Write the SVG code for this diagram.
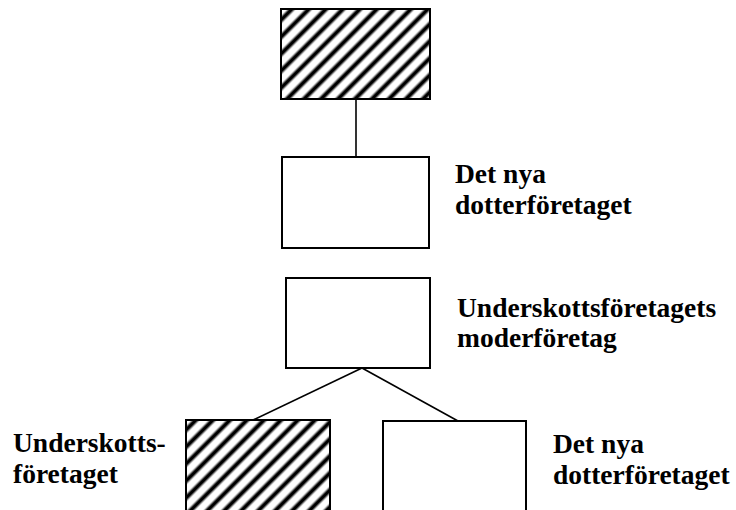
<svg xmlns="http://www.w3.org/2000/svg" width="736" height="510" viewBox="0 0 736 510">
<style>
.box{fill:#fff;stroke:#000;stroke-width:2}
.hatch1{fill:url(#h1);stroke:#000;stroke-width:2}
.hatch2{fill:url(#h2);stroke:#000;stroke-width:2}
.lbl{font-family:"Liberation Serif","Times New Roman",serif;font-weight:bold;font-size:27.5px;fill:#000}
.conn{stroke:#000;stroke-width:1.6;fill:none}
</style>
<defs>
<linearGradient id="sg" x1="0" y1="0" x2="0" y2="1">
<stop offset="0" stop-color="#fff"/>
<stop offset="0.22" stop-color="#fff"/>
<stop offset="0.42" stop-color="#000"/>
<stop offset="0.58" stop-color="#000"/>
<stop offset="0.78" stop-color="#fff"/>
<stop offset="1" stop-color="#fff"/>
</linearGradient>
<pattern id="h1" patternUnits="userSpaceOnUse" x="0" y="2.49" width="12.02" height="12.02" patternTransform="rotate(-45)">
<rect x="0" y="0" width="12.02" height="12.02" fill="url(#sg)"/>
</pattern>
<pattern id="h2" patternUnits="userSpaceOnUse" x="0" y="-3.18" width="12.02" height="12.02" patternTransform="rotate(-45)">
<rect x="0" y="0" width="12.02" height="12.02" fill="url(#sg)"/>
</pattern>
</defs>
<g id="connectors">
<line class="conn" x1="356" y1="99" x2="356" y2="157"/>
<line class="conn" x1="362" y1="368" x2="253" y2="420"/>
<line class="conn" x1="362" y1="368" x2="458" y2="421"/>
</g>
<g id="node-top">
<rect class="hatch1" x="281" y="9" width="149" height="90"/>
</g>
<g id="node-dotter1">
<rect class="box" x="282" y="157" width="147" height="91"/>
<text class="lbl" x="455" y="183">Det nya</text>
<text class="lbl" x="455" y="214">dotterföretaget</text>
</g>
<g id="node-moder">
<rect class="box" x="286" y="278" width="144" height="90"/>
<text class="lbl" x="457" y="317">Underskottsföretagets</text>
<text class="lbl" x="457" y="347">moderföretag</text>
</g>
<g id="node-underskott">
<rect class="hatch2" x="186" y="420" width="144" height="95"/>
<text class="lbl" x="13" y="452">Underskotts-</text>
<text class="lbl" x="13" y="483">företaget</text>
</g>
<g id="node-dotter2">
<rect class="box" x="383" y="421" width="143" height="94"/>
<text class="lbl" x="553" y="453">Det nya</text>
<text class="lbl" x="553" y="484">dotterföretaget</text>
</g>
</svg>
